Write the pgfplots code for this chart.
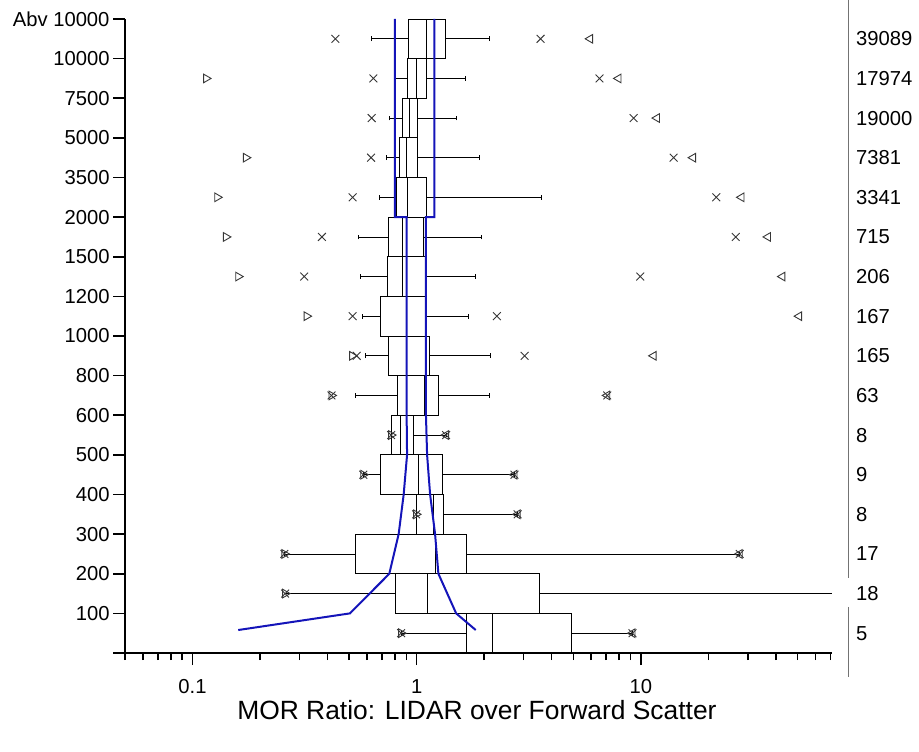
\documentclass[border=0pt]{standalone}
\usepackage{fontspec}
\setmainfont{Liberation Sans}
\usepackage{pgfplots}
\pgfplotsset{compat=1.18}
\usepgfplotslibrary{statistics}
\definecolor{mblue}{RGB}{20,20,185}
\definecolor{mgray}{RGB}{55,55,55}
\newcommand{\bx}[6]{%
\addplot[boxline, boxplot prepared={draw position=#1, lower whisker=#2, lower quartile=#3, median=#4, upper quartile=#5, upper whisker=#6}] coordinates {};}
\begin{document}
\begin{tikzpicture}
\useasboundingbox (-125bp,-99bp) rectangle (794bp,653bp);
\begin{axis}[
  at={(0,0)}, anchor=south west,
  scale only axis, width=706.7bp, height=634bp,
  xmode=log, xmin=0.05, xmax=71, ymin=0, ymax=16,
  axis x line*=bottom, axis y line*=left,
  xtick={0.1,1,10}, xticklabels={0.1,1,10},
  minor xtick={0.05,0.06,0.07,0.08,0.09,0.2,0.3,0.4,0.5,0.6,0.7,0.8,0.9,2,3,4,5,6,7,8,9,20,30,40,50,60,70},
  ytick={0,1,...,16},
  yticklabels={,100,200,300,400,500,600,800,1000,1200,1500,2000,3500,5000,7500,10000,Abv 10000},
  tick align=outside, major tick length=12bp, minor tick length=7bp,
  tick style={line width=1.6bp, black},
  axis line style={line width=1.6bp, black},
  ticklabel style={font=\fontsize{20.3}{24}\selectfont},
  xticklabel style={yshift=-11bp},
  /pgf/number format/assume math mode=true,
  xlabel={MOR Ratio: LIDAR over Forward Scatter},
  xlabel style={font=\fontsize{26.5}{30}\selectfont, at={(axis description cs:0.498,-0.0899)}, anchor=center},
  boxplot/draw direction=x,
  boxline/.style={black, line width=0.8bp, solid, mark=none, boxplot/box extend=1, boxplot/whisker extend=0.12},
  clip=false,
]
% position, lower whisker, Q1, median, Q3, upper whisker
\bx{15.5}{0.628}{0.918}{1.10}{1.35}{2.10}
\bx{14.5}{0.795}{0.906}{0.994}{1.108}{1.65}
\bx{13.5}{0.755}{0.861}{0.928}{1.01}{1.51}
\bx{12.5}{0.730}{0.837}{0.897}{1.004}{1.905}
\bx{11.5}{0.682}{0.809}{0.912}{1.108}{3.61}
\bx{10.5}{0.551}{0.750}{0.862}{1.071}{1.95}
\bx{9.5}{0.560}{0.737}{0.866}{1.094}{1.82}
\bx{8.5}{0.574}{0.686}{0.900}{1.090}{1.70}
\bx{7.5}{0.590}{0.748}{0.900}{1.143}{2.13}
\bx{6.5}{0.531}{0.823}{1.082}{1.25}{2.10}
\bx{5.5}{0.769}{0.769}{0.843}{0.970}{1.353}
\bx{4.5}{0.578}{0.686}{1.015}{1.30}{2.73}
\bx{3.5}{0.994}{0.994}{1.19}{1.31}{2.82}
\bx{2.5}{0.257}{0.531}{1.21}{1.67}{27.6}
\addplot[boxline, boxplot/whisker extend=0, boxplot prepared={draw position=1.5, lower whisker=0.259, lower quartile=0.803, median=1.12, upper quartile=3.53, upper whisker=71}] coordinates {};
\bx{0.5}{0.852}{1.67}{2.18}{4.89}{9.18}
% minimum (right-pointing triangle)
\addplot[only marks, mark=triangle, mark size=5bp, mark options={rotate=-90, draw=mgray, fill=white, line width=0.9bp}] coordinates {
(0.115,14.5) (0.173,12.5) (0.129,11.5) (0.141,10.5) (0.160,9.5) (0.323,8.5) (0.515,7.5) (0.417,6.5) (0.769,5.5) (0.578,4.5) (0.994,3.5) (0.257,2.5) (0.259,1.5) (0.852,0.5)};
% maximum (left-pointing triangle)
\addplot[only marks, mark=triangle, mark size=5bp, mark options={rotate=90, draw=mgray, fill=white, line width=0.9bp}] coordinates {
(5.94,15.5) (7.95,14.5) (11.8,13.5) (17.1,12.5) (28.1,11.5) (36.9,10.5) (42.8,9.5) (50.8,8.5) (11.4,7.5) (7.08,6.5) (1.353,5.5) (2.73,4.5) (2.82,3.5) (27.6,2.5) (9.18,0.5)};
% percentiles (x)
\addplot[only marks, mark=x, mark size=5.5bp, mark options={draw=mgray, line width=0.9bp}] coordinates {
(0.434,15.5) (3.57,15.5) (0.641,14.5) (6.54,14.5) (0.63,13.5) (9.28,13.5) (0.626,12.5) (14.0,12.5)
(0.518,11.5) (21.7,11.5) (0.378,10.5) (26.5,10.5) (0.315,9.5) (9.94,9.5) (0.518,8.5) (2.28,8.5)
(0.54,7.5) (3.03,7.5) (0.417,6.5) (7.08,6.5) (0.769,5.5) (1.353,5.5) (0.578,4.5) (2.73,4.5)
(0.994,3.5) (2.82,3.5) (0.257,2.5) (27.6,2.5) (0.259,1.5) (0.852,0.5) (9.18,0.5)};
% blue envelope lines
\addplot[mblue, line width=2bp, mark=none] coordinates {
(0.80,16) (0.80,11) (0.902,11) (0.902,6) (0.906,5) (0.875,4) (0.831,3) (0.755,2) (0.504,1) (0.160,0.58)};
\addplot[mblue, line width=2bp, mark=none] coordinates {
(1.20,16) (1.20,11) (1.10,11) (1.10,6) (1.113,5) (1.148,4) (1.208,3) (1.250,2) (1.50,1) (1.834,0.58)};
% separator and counts
\draw[black!55, line width=1bp] (rel axis cs:1.0238,1.03) -- (rel axis cs:1.0238,0.1183);
\draw[black!55, line width=1bp] (rel axis cs:1.0238,0.0726) -- (rel axis cs:1.0238,-0.0379);
\begin{scope}[every node/.style={anchor=west, inner sep=0pt, font=\fontsize{20.3}{24}\selectfont}]
\node at (rel axis cs:1.0344,0.96875) {39089};
\node at (rel axis cs:1.0344,0.90625) {17974};
\node at (rel axis cs:1.0344,0.84375) {19000};
\node at (rel axis cs:1.0344,0.78125) {7381};
\node at (rel axis cs:1.0344,0.71875) {3341};
\node at (rel axis cs:1.0344,0.65625) {715};
\node at (rel axis cs:1.0344,0.59375) {206};
\node at (rel axis cs:1.0344,0.53125) {167};
\node at (rel axis cs:1.0344,0.46875) {165};
\node at (rel axis cs:1.0344,0.40625) {63};
\node at (rel axis cs:1.0344,0.34375) {8};
\node at (rel axis cs:1.0344,0.28125) {9};
\node at (rel axis cs:1.0344,0.21875) {8};
\node at (rel axis cs:1.0344,0.15625) {17};
\node at (rel axis cs:1.0344,0.09375) {18};
\node at (rel axis cs:1.0344,0.03125) {5};
\end{scope}
\end{axis}
\end{tikzpicture}
\end{document}
